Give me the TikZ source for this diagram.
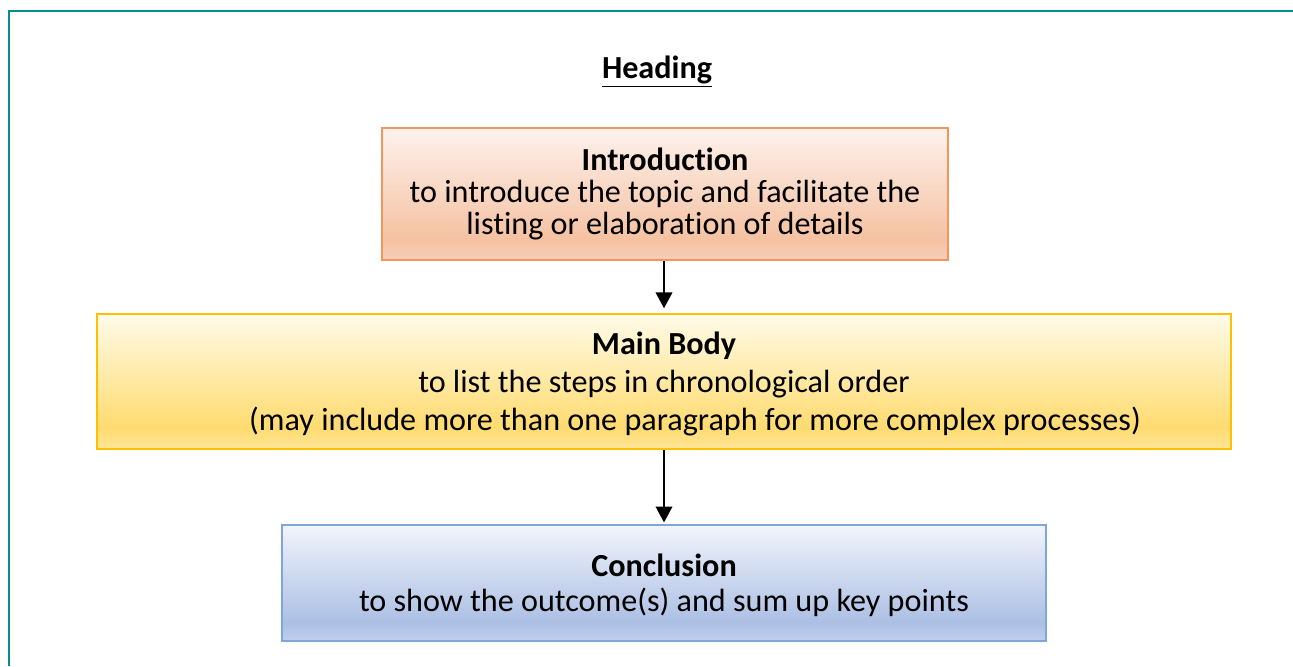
\documentclass[tikz,border=0pt]{standalone}
\usepackage{fontspec}
\setmainfont[Ligatures=NoCommon]{Carlito}
\usetikzlibrary{arrows.meta}

\definecolor{frameteal}{RGB}{0,145,143}
\definecolor{introline}{RGB}{244,150,92}
\definecolor{introtop}{RGB}{253,242,237}
\definecolor{introbot}{RGB}{245,194,162}
\definecolor{introend}{RGB}{247,206,182}
\definecolor{mainline}{RGB}{255,192,0}
\definecolor{maintop}{RGB}{255,251,234}
\definecolor{mainbot}{RGB}{255,219,112}
\definecolor{mainend}{RGB}{255,229,152}
\definecolor{concline}{RGB}{126,166,217}
\definecolor{conctop}{RGB}{242,244,251}
\definecolor{concbot}{RGB}{172,191,228}
\definecolor{concend}{RGB}{192,207,237}

% office-like gradients (light top, dark near bottom)
\pgfdeclareverticalshading{introshade}{100bp}{color(0bp)=(introend); color(25bp)=(introend); color(33bp)=(introbot); color(75bp)=(introtop); color(100bp)=(introtop)}
\pgfdeclareverticalshading{mainshade}{100bp}{color(0bp)=(mainend); color(25bp)=(mainend); color(33bp)=(mainbot); color(75bp)=(maintop); color(100bp)=(maintop)}
\pgfdeclareverticalshading{concshade}{100bp}{color(0bp)=(concend); color(25bp)=(concend); color(33bp)=(concbot); color(75bp)=(conctop); color(100bp)=(conctop)}

\begin{document}
\begin{tikzpicture}[x=0.02cm, y=-0.02cm,
        every node/.style={font=\fontsize{18.3}{18.3}\selectfont},
        box/.style={draw, line width=1pt, align=center, inner sep=0pt},
        arrow/.style={-{Triangle[width=9.5pt,length=9pt]}, line width=0.8pt}]
        \useasboundingbox (0,0) rectangle (1293,666);

        % Frame
        \draw[frameteal, line width=0.06cm] (9,666) -- (9,11) -- (1293,11);

        % Heading
        \node[anchor=base] (heading) at (657,78) {\underline{\textbf{Heading}}};

        % Boxes
        \node[box, draw=introline, shading=introshade, minimum width=11.32cm, minimum height=2.64cm] (intro) at (665,194)
            {\textbf{Introduction}\\to introduce the topic and facilitate the\\listing or elaboration of details};
        \node[box, draw=mainline, shading=mainshade, minimum width=22.68cm, minimum height=2.7cm, text depth=0pt,
            font=\fontsize{18.3}{21.6}\selectfont] (main) at (664,381.5)
            {\textbf{Main Body}\\to list the steps in chronological order\\\hspace*{1.24cm}(may include more than one paragraph for more complex processes)};
        \node[box, draw=concline, shading=concshade, minimum width=15.28cm, minimum height=2.32cm, text depth=0pt,
            font=\fontsize{18.3}{19.7}\selectfont] (conc) at (664,583)
            {\textbf{Conclusion}\\to show the outcome(s) and sum up key points};

        % Arrows
        \draw[arrow, shorten >=2.8pt] (intro.south -| main.north) -- (main.north);
        \draw[arrow, shorten >=1pt] (main.south) -- (conc.north);

\end{tikzpicture}
\end{document}
